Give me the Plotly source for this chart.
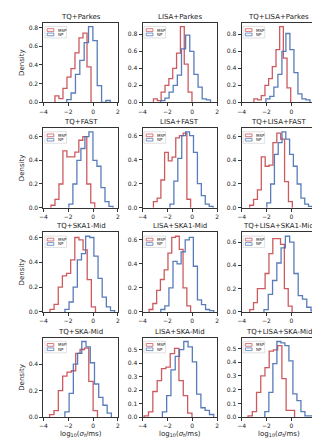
import numpy as np
import plotly.graph_objects as go

titles = ["TQ+Parkes", "LISA+Parkes", "TQ+LISA+Parkes",
          "TQ+FAST", "LISA+FAST", "TQ+LISA+FAST",
          "TQ+SKA1-Mid", "LISA+SKA1-Mid", "TQ+LISA+SKA1-Mid",
          "TQ+SKA-Mid", "LISA+SKA-Mid", "TQ+LISA+SKA-Mid"]

# MSP histograms: first/last bin edge and density per bin
msp_lo = [-3.07, -3.12, -3.01, -3.39, -3.12, -3.35, -3.47, -3.47, -3.35, -3.5, -3.87, -3.48]
msp_hi = [-0.17, -0.02, -0.05, 0.13, -0.13, 0.08, 0.19, -0.13, 0.06, 0.35, -0.02, 0.26]
msp_h = [
    [0.07, 0.04, 0.15, 0.27, 0.36, 0.53, 0.69, 0.74, 0.38],
    [0.04, 0.02, 0.12, 0.20, 0.28, 0.40, 0.58, 0.89, 0.45, 0.12],
    [0.04, 0.03, 0.08, 0.20, 0.28, 0.42, 0.62, 0.89, 0.52, 0.17],
    [0.02, 0.07, 0.20, 0.48, 0.43, 0.43, 0.47, 0.57, 0.60, 0.20, 0.04],
    [0.05, 0.08, 0.23, 0.46, 0.39, 0.42, 0.58, 0.60, 0.62, 0.07],
    [0.02, 0.07, 0.15, 0.43, 0.35, 0.36, 0.55, 0.63, 0.58, 0.22, 0.05],
    [0.02, 0.06, 0.20, 0.29, 0.31, 0.42, 0.60, 0.58, 0.50, 0.26, 0.04],
    [0.02, 0.07, 0.18, 0.27, 0.35, 0.49, 0.62, 0.63, 0.52, 0.20, 0.05],
    [0.02, 0.08, 0.20, 0.20, 0.33, 0.50, 0.63, 0.63, 0.58, 0.20, 0.05],
    [0.02, 0.05, 0.20, 0.31, 0.34, 0.35, 0.48, 0.51, 0.52, 0.27, 0.05],
    [0.01, 0.04, 0.19, 0.27, 0.36, 0.37, 0.47, 0.51, 0.27, 0.16, 0.03],
    [0.01, 0.04, 0.18, 0.30, 0.36, 0.48, 0.49, 0.52, 0.28, 0.05, 0.05],
]

# NP histograms
np_lo = [-2.12, -2.53, -2.05, -1.95, -1.79, -1.97, -2.27, -2.53, -2.2, -2.27, -2.4, -2.13]
np_hi = [1.38, 1.47, 1.5, 1.6, 1.68, 1.69, 1.73, 1.73, 1.93, 1.47, 1.73, 1.74]
np_h = [
    [0.03, 0.10, 0.30, 0.45, 0.64, 0.81, 0.66, 0.18, 0.0, 0.02],
    [0.02, 0.05, 0.12, 0.20, 0.32, 0.63, 0.79, 0.60, 0.33, 0.18, 0.04, 0.03],
    [0.04, 0.07, 0.18, 0.33, 0.60, 0.81, 0.62, 0.35, 0.10, 0.04, 0.03],
    [0.03, 0.20, 0.40, 0.50, 0.60, 0.64, 0.40, 0.35, 0.17, 0.05, 0.01],
    [0.03, 0.22, 0.41, 0.60, 0.63, 0.60, 0.46, 0.20, 0.10, 0.03, 0.01],
    [0.04, 0.20, 0.45, 0.55, 0.64, 0.58, 0.45, 0.35, 0.20, 0.08, 0.03, 0.01],
    [0.02, 0.08, 0.20, 0.42, 0.47, 0.61, 0.60, 0.45, 0.27, 0.12, 0.04, 0.01],
    [0.02, 0.05, 0.20, 0.42, 0.40, 0.50, 0.60, 0.62, 0.38, 0.10, 0.06, 0.02, 0.01],
    [0.02, 0.15, 0.27, 0.42, 0.55, 0.65, 0.60, 0.33, 0.14, 0.11, 0.04, 0.01],
    [0.04, 0.18, 0.40, 0.48, 0.57, 0.53, 0.41, 0.25, 0.15, 0.09, 0.03],
    [0.04, 0.16, 0.35, 0.45, 0.50, 0.56, 0.52, 0.41, 0.17, 0.07, 0.05, 0.02],
    [0.04, 0.18, 0.39, 0.55, 0.54, 0.52, 0.41, 0.17, 0.12, 0.04, 0.01, 0.01],
]

ytick_step = [0.2] * 9 + [0.2, 0.1, 0.1]

RED = "rgba(200,72,76,0.9)"
BLUE = "rgba(70,110,178,0.9)"
AX = "#333333"
FONT = "DejaVu Sans"

W, H = 320, 440
col_px = [(32, 108), (133, 209), (234, 310)]
row_px = [(15, 95), (121, 201), (226, 306), (332, 412)]

fig = go.Figure()
shapes = []
annots = []

for i in range(12):
    r, c = divmod(i, 3)
    sfx = "" if i == 0 else str(i + 1)
    for lo, hi, h, col in [(msp_lo[i], msp_hi[i], msp_h[i], RED),
                           (np_lo[i], np_hi[i], np_h[i], BLUE)]:
        edges = np.linspace(lo, hi, len(h) + 1)
        xs = np.concatenate([[edges[0]], edges])
        ys = np.concatenate([[0], h, [0]])
        fig.add_trace(go.Scatter(x=xs, y=ys, mode="lines",
                                 line=dict(color=col, width=1.3, shape="hv"),
                                 xaxis="x" + sfx, yaxis="y" + sfx,
                                 showlegend=False, hoverinfo="skip"))

    ymax = 1.05 * max(max(msp_h[i]), max(np_h[i]))
    x0, x1 = col_px[c]
    y0, y1 = row_px[r]
    xax = dict(
        domain=[x0 / W, x1 / W], anchor="y" + sfx, range=[-4, 2],
        tickvals=[-4, -2, 0, 2], showline=True, mirror=True, linecolor=AX,
        linewidth=1, ticks="outside", ticklen=3, tickwidth=0.8, tickcolor=AX,
        showgrid=False, zeroline=False,
        tickfont=dict(size=6, color="#222", family=FONT),
    )
    if r == 3:
        xax["title"] = dict(text="log<sub>10</sub>(<i>σ</i><sub><i>t</i></sub>/ms)",
                            font=dict(size=7, color="#222", family=FONT), standoff=2)
    yax = dict(
        domain=[1 - y1 / H, 1 - y0 / H], anchor="x" + sfx, range=[0, ymax],
        tick0=0, dtick=ytick_step[i], tickformat=".1f",
        showline=True, mirror=True, linecolor=AX, linewidth=1,
        ticks="outside", ticklen=3, tickwidth=0.8, tickcolor=AX,
        showgrid=False, zeroline=False,
        tickfont=dict(size=6, color="#222", family=FONT),
    )
    if c == 0:
        yax["title"] = dict(text="Density",
                            font=dict(size=7, color="#222", family=FONT), standoff=3)
    fig.layout["xaxis" + sfx] = xax
    fig.layout["yaxis" + sfx] = yax

    xr = "x" + sfx + " domain"
    yr = "y" + sfx + " domain"
    annots.append(dict(text=titles[i], xref=xr, yref=yr, x=0.5, y=1,
                       xanchor="center", yanchor="bottom", yshift=0,
                       showarrow=False,
                       font=dict(size=7, color="#222", family=FONT)))
    # small legend box
    shapes.append(dict(type="rect", xref=xr, yref=yr, x0=0.02, x1=0.31,
                       y0=0.81, y1=0.955, line=dict(color="#cccccc", width=0.6),
                       fillcolor="rgba(255,255,255,0.8)"))
    for yy, col, lab in [(0.91, RED, "MSP"), (0.855, BLUE, "NP")]:
        shapes.append(dict(type="rect", xref=xr, yref=yr, x0=0.05, x1=0.14,
                           y0=yy - 0.017, y1=yy + 0.017,
                           line=dict(color=col, width=0.8), fillcolor="white"))
        annots.append(dict(text=lab, xref=xr, yref=yr, x=0.165, y=yy,
                           xanchor="left", yanchor="middle", showarrow=False,
                           font=dict(size=4, color="#222", family=FONT)))

fig.update_layout(width=W, height=H, margin=dict(l=0, r=0, t=0, b=0),
                  plot_bgcolor="white", paper_bgcolor="white",
                  shapes=shapes, annotations=annots,
                  font=dict(family=FONT))
fig.write_html("out.html")
